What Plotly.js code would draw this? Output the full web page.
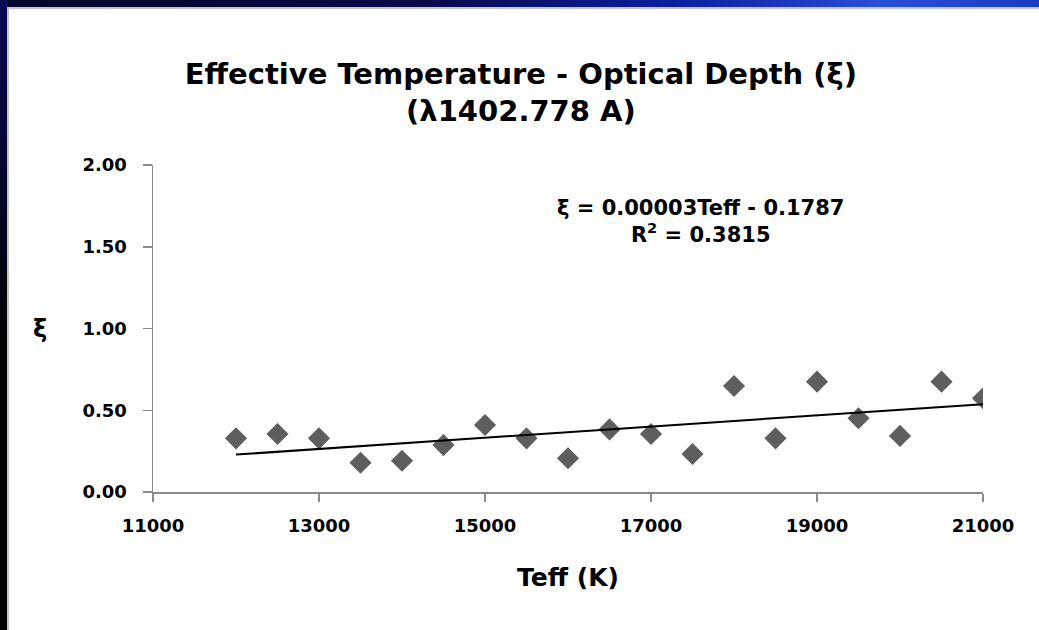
<!DOCTYPE html>
<html>
<head>
<meta charset="utf-8">
<script src="https://cdn.plot.ly/plotly-3.0.1.min.js"></script>
<style>
  html, body { margin: 0; padding: 0; width: 1039px; height: 630px; overflow: hidden; background: #000; }
  #bandTop { position: absolute; left: 0; top: 0; width: 1039px; height: 7px;
    background: linear-gradient(to right, #05052a 0%, #0a0a45 40%, #0b1fa0 65%, #2a4fd8 85%, #1a3cc0 100%); }
  #bandLeft { position: absolute; left: 0; top: 0; width: 7px; height: 630px;
    background: linear-gradient(to bottom, #0a0a55 0%, #05052a 30%, #000 55%, #000 100%); }
  #frame { position: absolute; left: 7px; top: 7px; width: 1030px; height: 621px;
    border-left: 2px solid #c4c4c4; border-top: 2px solid #c4c4c4; background: #fff; }
  #chart { width: 1030px; height: 621px; }
</style>
</head>
<body>
<div id="bandTop"></div>
<div id="bandLeft"></div>
<div id="frame"><div id="chart"></div></div>
<script>
// Effective temperature (K) and optical depth ξ for the λ1402.778 line
const teff = [12000, 12500, 13000, 13500, 14000, 14500, 15000, 15500, 16000, 16500,
              17000, 17500, 18000, 18500, 19000, 19500, 20000, 20500, 21000];
const xi   = [0.328, 0.355, 0.328, 0.179, 0.191, 0.287, 0.410, 0.328, 0.206, 0.383,
              0.355, 0.232, 0.648, 0.328, 0.675, 0.451, 0.343, 0.675, 0.573];

const titleLines = ['Effective Temperature - Optical Depth (ξ)', '(λ1402.778 A)'];
const xTitle = 'Teff (K)';
const yTitle = 'ξ';
const fitLabel = 'ξ = 0.00003Teff - 0.1787<br>R<sup>2</sup> = 0.3815';

// Least-squares linear trendline through the points
function linearFit(xs, ys) {
  const n = xs.length;
  const mx = xs.reduce((a, b) => a + b, 0) / n;
  const my = ys.reduce((a, b) => a + b, 0) / n;
  let sxy = 0, sxx = 0;
  for (let i = 0; i < n; i++) { sxy += (xs[i] - mx) * (ys[i] - my); sxx += (xs[i] - mx) ** 2; }
  const slope = sxy / sxx;
  return { slope, intercept: my - slope * mx };
}
const fit = linearFit(teff, xi);
const fitX = [Math.min(...teff), Math.max(...teff)];
const fitY = fitX.map(t => fit.slope * t + fit.intercept);

const FONT = '"DejaVu Sans", Verdana, sans-serif';
const axisColor = '#8a8a8a';

const traces = [
  {
    x: teff, y: xi, type: 'scatter', mode: 'markers',
    marker: { symbol: 'diamond', size: 17, color: '#5e5e5e', line: { width: 0 } },
    hoverinfo: 'x+y'
  },
  {
    x: fitX, y: fitY, type: 'scatter', mode: 'lines',
    line: { color: '#000', width: 2 }, hoverinfo: 'skip'
  }
];

const layout = {
  width: 1030, height: 621,
  margin: { l: 144, r: 56, t: 156, b: 138 },
  paper_bgcolor: '#ffffff', plot_bgcolor: '#ffffff',
  showlegend: false,
  font: { family: FONT, color: '#000', size: 16 },
  title: {
    text: '<b>' + titleLines.join('<br>') + '</b>',
    x: 0.497, xanchor: 'center', y: 0.88, yanchor: 'top',
    font: { family: FONT, size: 29, color: '#000' }
  },
  xaxis: {
    range: [11000, 21000], dtick: 2000, tick0: 11000, tickformat: 'd',
    showgrid: false, zeroline: false,
    showline: true, linecolor: axisColor, linewidth: 1.5,
    ticks: 'outside', ticklen: 8, tickcolor: axisColor, tickwidth: 1.5,
    ticklabelstandoff: 9,
    tickfont: { family: FONT, size: 18, color: '#000', weight: 'bold' },
    title: { text: '<b>' + xTitle + '</b>', font: { family: FONT, size: 25, color: '#000' }, standoff: 33 }
  },
  yaxis: {
    range: [0, 2], dtick: 0.5, tick0: 0, tickformat: '.2f',
    showgrid: false, zeroline: false,
    showline: true, linecolor: axisColor, linewidth: 1.5,
    ticks: 'outside', ticklen: 9, tickcolor: axisColor, tickwidth: 1.5,
    ticklabelstandoff: 12,
    tickfont: { family: FONT, size: 18, color: '#000', weight: 'bold' }
  },
  annotations: [
    {
      text: '<b>' + yTitle + '</b>', xref: 'paper', yref: 'paper',
      x: -0.136, y: 0.5, xanchor: 'center', yanchor: 'middle', showarrow: false,
      font: { family: FONT, size: 24, color: '#000' }
    },
    {
      text: '<b>' + fitLabel + '</b>', xref: 'paper', yref: 'paper',
      x: 0.66, y: 0.91, xanchor: 'center', yanchor: 'top', showarrow: false,
      align: 'center',
      font: { family: FONT, size: 21, color: '#000' }
    }
  ]
};

Plotly.newPlot('chart', traces, layout, { displayModeBar: false, staticPlot: true });
</script>
</body>
</html>
